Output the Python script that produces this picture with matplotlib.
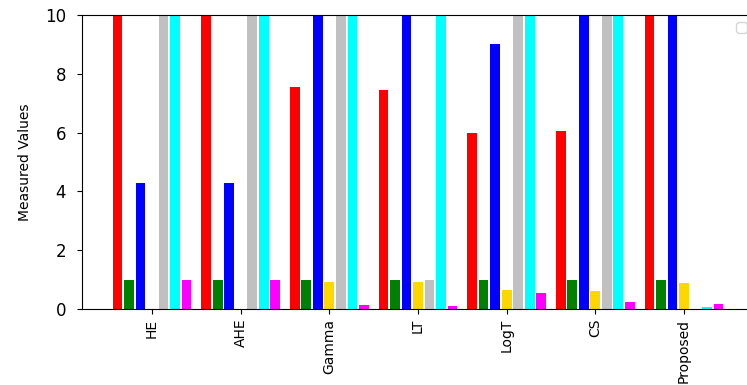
import numpy as np
import matplotlib
matplotlib.use('Agg')
import matplotlib.pyplot as plt

# --- data (values above 10 are clipped by the y-limit) ---
methods = ['HE', 'AHE', 'Gamma', 'LT', 'LogT', 'CS', 'Proposed']
series_colors = ['red', 'green', 'blue', 'gold', 'silver', 'cyan', 'magenta']

red_vals     = [12.0, 12.0, 7.54, 7.45, 5.99, 6.05, 12.0]
green_vals   = [0.98, 0.98, 0.98, 0.98, 0.98, 0.98, 0.98]
blue_vals    = [4.30, 4.30, 12.0, 12.0, 9.02, 12.0, 12.0]
gold_vals    = [0.0, 0.0, 0.93, 0.93, 0.66, 0.61, 0.88]
silver_vals  = [12.0, 12.0, 12.0, 0.97, 12.0, 12.0, 0.0]
cyan_vals    = [12.0, 12.0, 12.0, 12.0, 12.0, 12.0, 0.07]
magenta_vals = [0.98, 0.98, 0.15, 0.11, 0.56, 0.25, 0.16]

all_series = [red_vals, green_vals, blue_vals, gold_vals,
              silver_vals, cyan_vals, magenta_vals]

# --- figure ---
fig = plt.figure(figsize=(7.47, 3.85), dpi=100)
ax = fig.add_axes([82 / 747, 76 / 385, 672 / 747, 294 / 385])

x = np.arange(len(methods))
step = 0.13
bar_w = 0.11
for i, (vals, col) in enumerate(zip(all_series, series_colors)):
    ax.bar(x + (i - 3) * step, vals, width=bar_w, color=col)

ax.set_xlim(-0.79, 6.79)
ax.set_ylim(0, 10)
ax.set_xticks(x)
ax.set_xticklabels(methods, rotation=90, fontsize=10)
ax.tick_params(axis='y', labelsize=12, pad=8)
ax.set_ylabel('Measured Values', fontsize=10, labelpad=9)

# empty legend box, as in the original
leg = ax.legend(handles=[], loc='upper right')

fig.savefig('out.png', dpi=100)
